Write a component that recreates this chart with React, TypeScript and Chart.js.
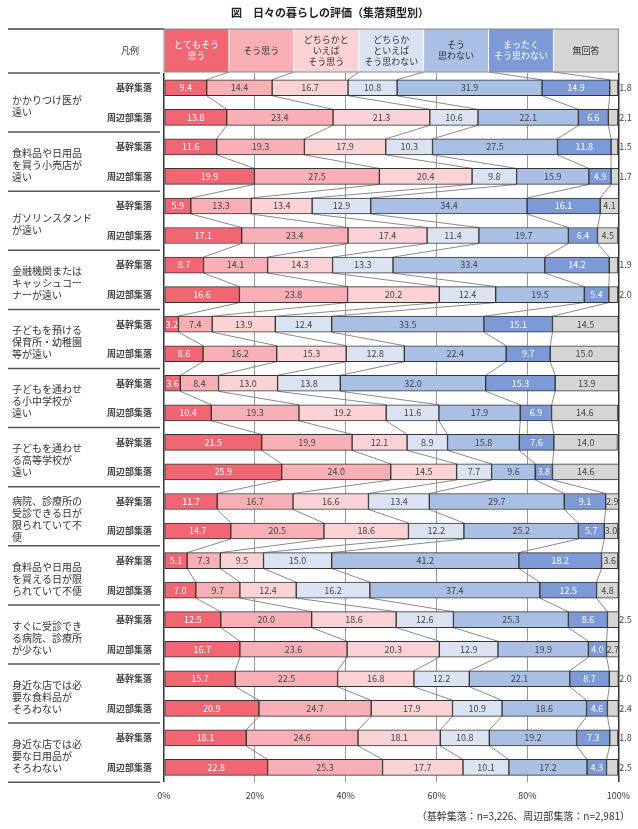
import React, { useEffect, useRef } from 'react';
import { Chart, registerables } from 'chart.js';
Chart.register(...registerables);

const FONT = "'Noto Sans CJK JP', 'Noto Sans', sans-serif";

const title = '図　日々の暮らしの評価（集落類型別）';
const footnote = '（基幹集落：n=3,226、周辺部集落：n=2,981）';
const legendTitle = '凡例';

const categories = [
  'かかりつけ医が\n遠い',
  '食料品や日用品\nを買う小売店が\n遠い',
  'ガソリンスタンド\nが遠い',
  '金融機関または\nキャッシュコー\nナーが遠い',
  '子どもを預ける\n保育所・幼稚園\n等が遠い',
  '子どもを通わせ\nる小中学校が\n遠い',
  '子どもを通わせ\nる高等学校が\n遠い',
  '病院、診療所の\n受診できる日が\n限られていて不\n便',
  '食料品や日用品\nを買える日が限\nられていて不便',
  'すぐに受診でき\nる病院、診療所\nが少ない',
  '身近な店では必\n要な食料品が\nそろわない',
  '身近な店では必\n要な日用品が\nそろわない',
];
const groups = ['基幹集落', '周辺部集落'];

const seriesNames = [
  'とてもそう\n思う',
  'そう思う',
  'どちらかと\nいえば\nそう思う',
  'どちらか\nといえば\nそう思わない',
  'そう\n思わない',
  'まったく\nそう思わない',
  '無回答',
];

const stronglyAgree = [9.4, 13.8, 11.6, 19.9, 5.9, 17.1, 8.7, 16.6, 3.2, 8.6, 3.6, 10.4, 21.5, 25.9, 11.7, 14.7, 5.1, 7.0, 12.5, 16.7, 15.7, 20.9, 18.1, 22.8];
const agree = [14.4, 23.4, 19.3, 27.5, 13.3, 23.4, 14.1, 23.8, 7.4, 16.2, 8.4, 19.3, 19.9, 24.0, 16.7, 20.5, 7.3, 9.7, 20.0, 23.6, 22.5, 24.7, 24.6, 25.3];
const ratherAgree = [16.7, 21.3, 17.9, 20.4, 13.4, 17.4, 14.3, 20.2, 13.9, 15.3, 13.0, 19.2, 12.1, 14.5, 16.6, 18.6, 9.5, 12.4, 18.6, 20.3, 16.8, 17.9, 18.1, 17.7];
const ratherDisagree = [10.8, 10.6, 10.3, 9.8, 12.9, 11.4, 13.3, 12.4, 12.4, 12.8, 13.8, 11.6, 8.9, 7.7, 13.4, 12.2, 15.0, 16.2, 12.6, 12.9, 12.2, 10.9, 10.8, 10.1];
const disagree = [31.9, 22.1, 27.5, 15.9, 34.4, 19.7, 33.4, 19.5, 33.5, 22.4, 32.0, 17.9, 15.8, 9.6, 29.7, 25.2, 41.2, 37.4, 25.3, 19.9, 22.1, 18.6, 19.2, 17.2];
const stronglyDisagree = [14.9, 6.6, 11.8, 4.9, 16.1, 6.4, 14.2, 5.4, 15.1, 9.7, 15.3, 6.9, 7.6, 3.8, 9.1, 5.7, 18.2, 12.5, 8.6, 4.0, 8.7, 4.6, 7.3, 4.3];
const noAnswer = [1.8, 2.1, 1.5, 1.7, 4.1, 4.5, 1.9, 2.0, 14.5, 15.0, 13.9, 14.6, 14.0, 14.6, 2.9, 3.0, 3.6, 4.8, 2.5, 2.7, 2.0, 2.4, 1.8, 2.5];

const seriesValues = [stronglyAgree, agree, ratherAgree, ratherDisagree, disagree, stronglyDisagree, noAnswer];
const seriesColors = ['#f06672', '#f8b0b6', '#fbd2d5', '#dbe3f3', '#aabfe4', '#7d99d6', '#d5d5d5'];
const labelColors = ['#ffffff', '#444444', '#444444', '#444444', '#444444', '#ffffff', '#444444'];
const xTicks = [0, 20, 40, 60, 80, 100];

const rowLabels = categories.flatMap((c) => groups.map((g) => c.replace(/\n/g, '') + ' ' + g));

const BAR_H = 16;

const drawPlugin = {
  id: 'decor',
  beforeDraw(chart: any) {
    const ctx = chart.ctx;
    const { left, right, top, bottom } = chart.chartArea;
    const yS = chart.scales.y;
    ctx.save();
    ctx.fillStyle = '#fff';
    ctx.fillRect(0, 0, chart.width, chart.height);

    // title
    ctx.fillStyle = '#222';
    ctx.font = `bold 11px ${FONT}`;
    ctx.textAlign = 'center';
    ctx.textBaseline = 'middle';
    ctx.fillText(title, 330, 13);

    // header legend
    const hTop = 29;
    const hBot = top - 1;
    const cw = (right - left) / seriesNames.length;
    seriesNames.forEach((n, k) => {
      const x0 = left + k * cw;
      ctx.fillStyle = seriesColors[k];
      ctx.fillRect(x0, hTop, cw, hBot - hTop);
      ctx.strokeStyle = '#ffffff';
      ctx.lineWidth = 1;
      ctx.beginPath();
      ctx.moveTo(x0, hTop);
      ctx.lineTo(x0, hBot);
      ctx.stroke();
      const lines = n.split('\n');
      ctx.font = `9px ${FONT}`;
      ctx.fillStyle = labelColors[k] === '#ffffff' ? '#ffffff' : '#333';
      ctx.textAlign = 'center';
      const lh = 11;
      const cy = (hTop + hBot) / 2;
      lines.forEach((l, j) => {
        ctx.fillText(l, x0 + cw / 2, cy + (j - (lines.length - 1) / 2) * lh);
      });
    });
    ctx.strokeStyle = '#888';
    ctx.lineWidth = 1;
    ctx.strokeRect(left, hTop, right - left, hBot - hTop);

    ctx.fillStyle = '#333';
    ctx.font = `9px ${FONT}`;
    ctx.textAlign = 'center';
    ctx.fillText(legendTitle, 130, (hTop + hBot) / 2);

    // left frame lines
    ctx.strokeStyle = '#444';
    ctx.lineWidth = 1.5;
    ctx.beginPath();
    ctx.moveTo(8, hTop);
    ctx.lineTo(left, hTop);
    ctx.stroke();

    const slot = (bottom - top) / rowLabels.length;
    const gH = slot * 2;
    for (let g = 0; g <= categories.length; g++) {
      const y = top + g * gH;
      ctx.strokeStyle = '#555';
      ctx.lineWidth = 1.5;
      ctx.beginPath();
      ctx.moveTo(8, y);
      ctx.lineTo(left - 4, y);
      ctx.stroke();
    }

    // category labels
    categories.forEach((c, g) => {
      const lines = c.split('\n');
      const cy = top + g * gH + 33;
      ctx.font = `10px ${FONT}`;
      ctx.fillStyle = '#333';
      ctx.textAlign = 'left';
      const lh = 12;
      lines.forEach((l, j) => {
        ctx.fillText(l, 12, cy + (j - (lines.length - 1) / 2) * lh);
      });
    });
    // group labels
    rowLabels.forEach((_, i) => {
      const y = yS.getPixelForValue(i);
      ctx.font = `bold 9px ${FONT}`;
      ctx.fillStyle = '#444';
      ctx.textAlign = 'right';
      ctx.fillText(groups[i % 2], 152, y);
    });

    // footnote
    ctx.font = `10px ${FONT}`;
    ctx.fillStyle = '#333';
    ctx.textAlign = 'right';
    ctx.fillText(footnote, 630, 816);
    ctx.restore();
  },
  beforeDatasetsDraw(chart: any) {
    const ctx = chart.ctx;
    const { left, right, top } = chart.chartArea;
    const xS = chart.scales.x;
    const yS = chart.scales.y;
    const n = rowLabels.length;
    const cum = (i: number, k: number) => {
      let s = 0;
      for (let j = 0; j < k; j++) s += seriesValues[j][i];
      return s;
    };
    ctx.save();
    ctx.strokeStyle = '#8a8a8a';
    ctx.lineWidth = 1;
    const cw = (right - left) / seriesNames.length;
    for (let k = 1; k < seriesValues.length; k++) {
      ctx.beginPath();
      ctx.moveTo(left + k * cw, top - 1);
      ctx.lineTo(xS.getPixelForValue(cum(0, k)), yS.getPixelForValue(0) - BAR_H / 2);
      for (let i = 0; i < n - 1; i++) {
        ctx.moveTo(xS.getPixelForValue(cum(i, k)), yS.getPixelForValue(i) + BAR_H / 2);
        ctx.lineTo(xS.getPixelForValue(cum(i + 1, k)), yS.getPixelForValue(i + 1) - BAR_H / 2);
      }
      ctx.stroke();
    }
    ctx.restore();
  },
  afterDatasetsDraw(chart: any) {
    const ctx = chart.ctx;
    const { right } = chart.chartArea;
    ctx.save();
    ctx.font = `9px ${FONT}`;
    ctx.textBaseline = 'middle';
    seriesValues.forEach((vals, k) => {
      const meta = chart.getDatasetMeta(k);
      meta.data.forEach((el: any, i: number) => {
        const v = vals[i];
        const txt = v.toFixed(1);
        if (k === 6 && v < 2.6) {
          ctx.textAlign = 'left';
          ctx.fillStyle = '#444';
          ctx.fillText(txt, right + 1, el.y);
        } else {
          ctx.textAlign = 'center';
          ctx.fillStyle = labelColors[k];
          ctx.fillText(txt, (el.x + el.base) / 2, el.y);
        }
      });
    });
    ctx.restore();
  },
};

export default function App() {
  const ref = useRef<HTMLCanvasElement>(null);
  useEffect(() => {
    const chart = new Chart(ref.current!, {
      type: 'bar',
      data: {
        labels: rowLabels,
        datasets: seriesValues.map((vals, k) => ({
          label: seriesNames[k].replace(/\n/g, ''),
          data: vals,
          backgroundColor: seriesColors[k],
          borderColor: '#333',
          borderWidth: 1,
          borderSkipped: false,
          barThickness: BAR_H,
        })),
      },
      options: {
        indexAxis: 'y',
        responsive: false,
        animation: false,
        devicePixelRatio: 1,
        layout: { padding: { left: 164, right: 14, top: 73, bottom: 20 } },
        plugins: { legend: { display: false }, tooltip: { enabled: false } },
        scales: {
          x: {
            stacked: true,
            min: 0,
            max: 100,
            afterBuildTicks: (s: any) => {
              s.ticks = xTicks.map((v) => ({ value: v }));
            },
            ticks: {
              callback: (v: any) => v + '%',
              font: { size: 9, family: FONT },
              color: '#333',
              padding: 8,
            },
            grid: {
              drawTicks: false,
              color: (c: any) => (c.tick && (c.tick.value === 0 || c.tick.value === 100) ? '#333' : '#999'),
              lineWidth: (c: any) => (c.tick && (c.tick.value === 0 || c.tick.value === 100) ? 1.5 : 1),
            },
            border: { display: false },
          },
          y: { stacked: true, display: false },
        },
      },
      plugins: [drawPlugin],
    } as any);
    return () => chart.destroy();
  }, []);
  return (
    <div style={{ position: 'absolute', left: 0, top: 0, width: 638, height: 829 }}>
      <canvas ref={ref} width={638} height={829} style={{ display: 'block' }} />
    </div>
  );
}
